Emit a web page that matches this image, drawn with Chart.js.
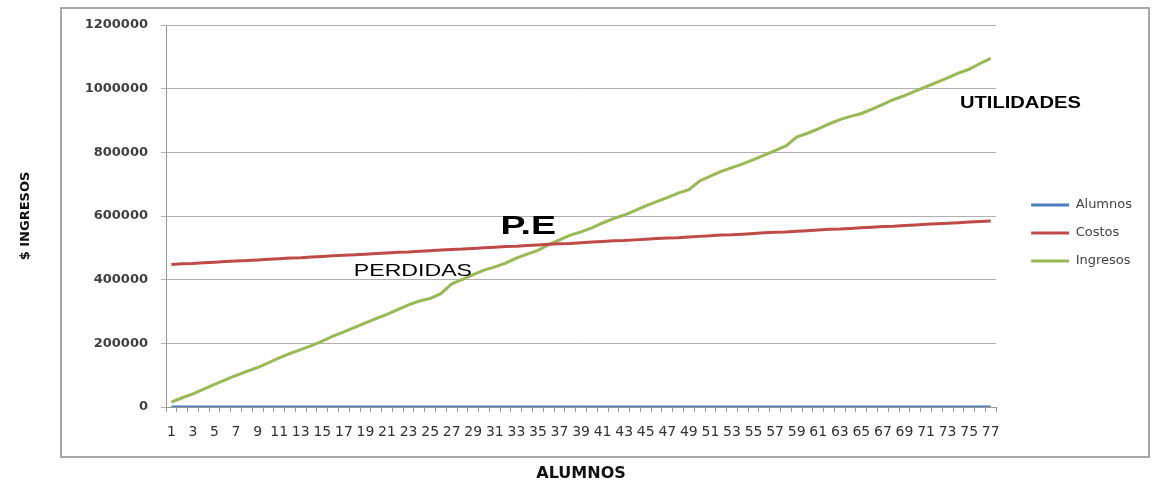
<!DOCTYPE html>
<html>
<head>
<meta charset="utf-8">
<script src="https://cdn.jsdelivr.net/npm/chart.js@4.4.1/dist/chart.umd.min.js"></script>
<style>
  html, body { margin: 0; padding: 0; background: #fff; }
  #wrap { position: relative; width: 1156px; height: 484px; }
  #frame {
    position: absolute; left: 60px; top: 7px; width: 1090px; height: 451px;
    box-sizing: border-box; border: 2px solid #a8a8a8; pointer-events: none;
  }
  canvas { position: absolute; left: 0; top: 0; }
</style>
</head>
<body>
<div id="wrap">
  <div id="frame"></div>
  <canvas id="chart" width="1156" height="484"></canvas>
</div>
<script>
const alumnos = [
  1, 2, 3, 4, 5, 6, 7, 8, 9, 10, 11, 12, 13, 14, 15, 16, 17, 18, 19, 20,
  21, 22, 23, 24, 25, 26, 27, 28, 29, 30, 31, 32, 33, 34, 35, 36, 37, 38, 39, 40,
  41, 42, 43, 44, 45, 46, 47, 48, 49, 50, 51, 52, 53, 54, 55, 56, 57, 58, 59, 60,
  61, 62, 63, 64, 65, 66, 67, 68, 69, 70, 71, 72, 73, 74, 75, 76, 77
];

const costos = [
  448000, 450000, 451000, 453000, 455000, 457000, 459000, 460000, 462000, 464000,
  466000, 468000, 469000, 471000, 473000, 475000, 477000, 478000, 480000, 482000,
  484000, 486000, 487000, 489000, 491000, 493000, 495000, 496000, 498000, 500000,
  502000, 504000, 505000, 507000, 509000, 511000, 513000, 514000, 516000, 518000,
  520000, 522000, 523000, 525000, 527000, 529000, 531000, 532000, 534000, 536000,
  538000, 540000, 541000, 543000, 545000, 547000, 549000, 550000, 552000, 554000,
  556000, 558000, 559000, 561000, 563000, 565000, 567000, 568000, 570000, 572000,
  574000, 576000, 577000, 579000, 581000, 583000, 584000
];

const ingresos = [
  15000, 29000, 41000, 56000, 71000, 85000, 99000, 112000, 124000, 139000,
  154000, 168000, 180000, 193000, 207000, 223000, 236000, 250000, 264000, 278000,
  291000, 306000, 321000, 333000, 341000, 356000, 387000, 401000, 416000, 430000,
  440000, 452000, 468000, 480000, 492000, 510000, 525000, 540000, 550000, 563000,
  578000, 592000, 603000, 617000, 632000, 645000, 658000, 672000, 683000, 710000,
  725000, 740000, 752000, 764000, 777000, 791000, 805000, 820000, 848000, 860000,
  874000, 889000, 903000, 913000, 922000, 936000, 951000, 966000, 978000, 992000,
  1006000, 1020000, 1034000, 1049000, 1061000, 1079000, 1095000
];

const seriesNames = ["Alumnos", "Costos", "Ingresos"];
const seriesColors = ["#4a7ebb", "#be4b48", "#98b954"];

// textos dentro del grafico (posicion en unidades de los ejes)
const notas = [
  { text: "P.E", x: 33.1, y: 565000, font: 'bold 25px "Liberation Sans"', sx: 1.5 },
  { text: "PERDIDAS", x: 22.4, y: 427000, font: '17px "Liberation Sans"', sx: 1.36 },
  { text: "UTILIDADES", x: 78.75, y: 953000, font: 'bold 16px "Liberation Sans"', sx: 1.26 }
];

const notasPlugin = {
  id: "notas",
  afterDatasetsDraw(chart) {
    const { ctx, scales } = chart;
    notas.forEach((n) => {
      ctx.save();
      ctx.translate(scales.x.getPixelForValue(n.x), scales.y.getPixelForValue(n.y));
      ctx.scale(n.sx, 1);
      ctx.font = n.font;
      ctx.fillStyle = "#000";
      ctx.textAlign = "center";
      ctx.textBaseline = "middle";
      ctx.fillText(n.text, 0, 0);
      ctx.restore();
    });
  }
};

// mueve la leyenda junto al area del grafico
const legendPos = {
  id: "legendPos",
  afterLayout(chart) {
    const l = chart.legend;
    const dx = chart.chartArea.right + 20 - l.left;
    l.left += dx; l.right += dx;
    l.top += 17; l.bottom += 17;
  }
};

new Chart(document.getElementById("chart"), {
  type: "line",
  data: {
    labels: alumnos,
    datasets: [alumnos, costos, ingresos].map((d, i) => ({
      label: seriesNames[i],
      data: d,
      borderColor: seriesColors[i],
      backgroundColor: seriesColors[i],
      borderWidth: 3,
      pointRadius: 0,
      tension: 0
    }))
  },
  options: {
    responsive: false,
    animation: false,
    layout: { padding: { left: 14, top: 25, right: 34, bottom: 0 } },
    plugins: {
      legend: {
        position: "right",
        fullSize: false,
        labels: {
          boxWidth: 38,
          boxHeight: 0,
          padding: 15,
          color: "#444",
          font: { family: "DejaVu Sans", size: 13 }
        }
      },
      tooltip: { enabled: false }
    },
    scales: {
      x: {
        offset: true,
        afterFit: (s) => { s.height = 77; },
        grid: { offset: true, drawOnChartArea: false, tickLength: 5, color: "#999" },
        border: { color: "#999" },
        ticks: {
          autoSkip: false,
          maxRotation: 0,
          minRotation: 0,
          padding: 12,
          color: "#333",
          font: { family: "DejaVu Sans", size: 14 },
          callback: (v, i) => (i % 2 === 0 ? String(alumnos[i]) : "")
        },
        title: {
          display: true,
          text: "ALUMNOS",
          color: "#111",
          padding: { top: 4, bottom: 1 },
          font: { family: "DejaVu Sans", size: 16, weight: "bold" }
        }
      },
      y: {
        min: 0,
        max: 1200000,
        afterFit: (s) => { s.width = 152; },
        grid: { color: "#b0b0b0", tickLength: 5 },
        border: { color: "#999" },
        ticks: {
          stepSize: 200000,
          padding: 13,
          color: "#404040",
          font: { family: "DejaVu Sans", size: 13, weight: "bold" },
          callback: (v) => String(v)
        },
        title: {
          display: true,
          text: "$ INGRESOS",
          color: "#111",
          padding: { top: 4, bottom: 4 },
          font: { family: "DejaVu Sans", size: 13, weight: "bold" }
        }
      }
    }
  },
  plugins: [notasPlugin, legendPos]
});
</script>
</body>
</html>
